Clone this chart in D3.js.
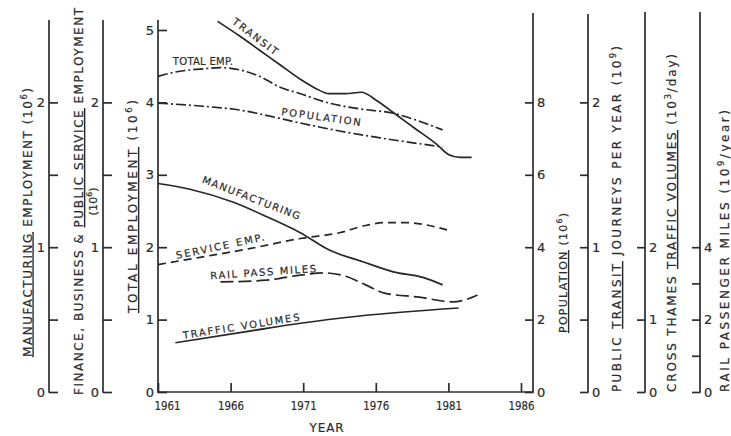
<!DOCTYPE html>
<html>
<head>
<meta charset="utf-8">
<script src="https://cdn.jsdelivr.net/npm/d3@7"></script>
<style>
body { margin: 0; background: #fff; }
text { font-family: "DejaVu Sans", sans-serif; fill: #2c2c2c; stroke: #2c2c2c; stroke-width: 0.2px; }
</style>
</head>
<body>
<svg id="chart" width="731" height="436"></svg>
<script>
// values, each series in its own axis units
var yearTicks = [1961, 1966, 1971, 1976, 1981, 1986];

var transitYears = [1965.1, 1966.6, 1968.0, 1969.4, 1970.8, 1971.8, 1972.8, 1973.9, 1975.0, 1976.1, 1977.2, 1978.7, 1980.2, 1981.0, 1981.8, 1982.6];
var transitValues = [2.56, 2.46, 2.36, 2.26, 2.16, 2.10, 2.06, 2.06, 2.07, 2.01, 1.93, 1.82, 1.71, 1.64, 1.62, 1.62];

var totalYears = [1961.0, 1962.2, 1963.9, 1965.3, 1966.6, 1968.0, 1969.4, 1970.8, 1972.8, 1974.9, 1977.2, 1979.0, 1980.6];
var totalValues = [4.36, 4.42, 4.46, 4.48, 4.45, 4.36, 4.21, 4.12, 3.99, 3.91, 3.85, 3.74, 3.62];

var popYears = [1961.0, 1963.9, 1966.6, 1968.7, 1970.8, 1973.5, 1976.3, 1980.6];
var popValues = [7.98, 7.90, 7.79, 7.62, 7.43, 7.21, 7.02, 6.77];

var mfgYears = [1961.0, 1963.2, 1966.2, 1968.5, 1970.8, 1972.8, 1975.1, 1977.2, 1979.3, 1980.6];
var mfgValues = [1.44, 1.40, 1.31, 1.21, 1.10, 0.98, 0.90, 0.83, 0.79, 0.74];

var servYears = [1961.0, 1963.9, 1967.3, 1970.8, 1973.5, 1975.3, 1976.6, 1978.0, 1980.9];
var servValues = [0.88, 0.93, 0.99, 1.06, 1.10, 1.15, 1.17, 1.17, 1.12];

var railYears = [1965.3, 1968.5, 1970.8, 1972.5, 1973.9, 1975.3, 1976.6, 1979.0, 1981.3, 1982.1, 1983.0];
var railValues = [3.04, 3.09, 3.23, 3.29, 3.20, 2.96, 2.73, 2.62, 2.49, 2.54, 2.68];

var trafficYears = [1962.2, 1967.3, 1970.8, 1974.9, 1981.7];
var trafficValues = [0.68, 0.84, 0.95, 1.05, 1.16];

var ink = "#2c2c2c";
var svg = d3.select("#chart");

var x = d3.scaleLinear().domain([1961, 1986]).range([158, 521]);
var yTotal = d3.scaleLinear().domain([0, 5]).range([392, 30]);
var yMfg = d3.scaleLinear().domain([0, 2.5]).range([392, 30]);
var yServ = d3.scaleLinear().domain([0, 2.5]).range([392, 30]);
var yPop = d3.scaleLinear().domain([0, 10]).range([392, 30]);
var yTransit = d3.scaleLinear().domain([0, 2.5]).range([392, 30]);
var yTraffic = d3.scaleLinear().domain([0, 5]).range([392, 30]);
var yRail = d3.scaleLinear().domain([0, 10]).range([392, 30]);

// stretch letter spacing so a text runs the same length as in the scan
function fit(t, target) {
  var n = t.text().length;
  var w = t.node().getComputedTextLength();
  t.attr("letter-spacing", (target - w) / Math.max(n - 1, 1));
}

function yAxis(xpos, scale, top, ticks, fmt, side) {
  var axis = side === "L" ? d3.axisLeft(scale).tickSize(-9) : d3.axisRight(scale).tickSize(-8);
  axis.tickValues(ticks).tickFormat(fmt).tickPadding(4);
  var g = svg.append("g").attr("transform", `translate(${xpos},0)`).call(axis);
  g.attr("font-family", null).attr("font-size", null);
  g.select(".domain").remove();
  g.selectAll(".tick line").attr("stroke", ink).attr("stroke-width", 1.7);
  g.selectAll(".tick text").attr("font-size", 13);
  g.append("line")
    .attr("y1", top).attr("y2", 392.7)
    .attr("stroke", ink).attr("stroke-width", 1.7);
  return g;
}

var half = d => (d % 1 === 0 ? d : "");
yAxis(49, yMfg, 20, [0, 0.5, 1, 1.5, 2], half, "L");
yAxis(103, yServ, 20, [0, 0.5, 1, 1.5, 2], half, "L");
yAxis(158, yTotal, 20, [0, 1, 2, 3, 4, 5], d => d, "L");
yAxis(533, yPop, 13, [0, 2, 4, 6, 8], d => d, "R");
yAxis(588, yTransit, 14, [0, 0.5, 1, 1.5, 2], half, "R");
yAxis(645, yTraffic, 12, [0, 1, 2], d => d, "R");
yAxis(700, yRail, 12, [0, 1, 2, 3, 4], d => (d % 2 === 0 ? d : ""), "R");

// year axis
var xg = svg.append("g").attr("transform", "translate(0,392)")
  .call(d3.axisBottom(x).tickValues(yearTicks).tickSize(-9).tickPadding(9).tickFormat(d3.format("d")));
xg.attr("font-family", null).attr("font-size", null);
xg.select(".domain").remove();
xg.selectAll(".tick line").attr("stroke", ink).attr("stroke-width", 1.7);
xg.selectAll(".tick text").attr("font-size", 13)
  .attr("textLength", 26).attr("lengthAdjust", "spacingAndGlyphs")
  .attr("dx", d => (d === 1961 ? 9 : 0));
xg.append("line").attr("x1", 157.2).attr("x2", 533.8)
  .attr("stroke", ink).attr("stroke-width", 1.7);

var yearLabel = svg.append("text").attr("x", 327).attr("y", 432)
  .attr("text-anchor", "middle").attr("font-size", 12).text("YEAR");
fit(yearLabel, 34);

// series
function series(years, values, scale, dash) {
  var line = d3.line()
    .x(d => x(d[0]))
    .y(d => scale(d[1]))
    .curve(d3.curveMonotoneX);
  svg.append("path")
    .datum(d3.zip(years, values))
    .attr("d", line)
    .attr("fill", "none")
    .attr("stroke", "#262626")
    .attr("stroke-width", 1.7)
    .attr("stroke-dasharray", dash);
}

series(transitYears, transitValues, yTransit, null);
series(totalYears, totalValues, yTotal, "10,3,2,3");
series(popYears, popValues, yPop, "10,3,2,3");
series(mfgYears, mfgValues, yMfg, null);
series(servYears, servValues, yServ, "8,5");
series(railYears, railValues, yRail, "13,5");
series(trafficYears, trafficValues, yTraffic, null);

// labels written along the curves
function curveLabel(txt, cx, cy, angle, len) {
  var t = svg.append("text")
    .attr("transform", `translate(${cx},${cy}) rotate(${angle})`)
    .attr("text-anchor", "middle")
    .attr("dy", "0.36em")
    .attr("font-size", 10)
    .text(txt);
  fit(t, len);
}
curveLabel("TRANSIT", 256, 37, 37, 54);
curveLabel("TOTAL EMP.", 203, 61, 0, 60);
curveLabel("POPULATION", 322, 117, 8, 80);
curveLabel("MANUFACTURING", 252, 198, 21, 104);
curveLabel("SERVICE EMP.", 221, 246, -12, 90);
curveLabel("RAIL PASS MILES", 264, 272, -4, 106);
curveLabel("TRAFFIC VOLUMES", 242, 326, -9, 118);

// rotated axis titles; parts: [text, "u" underline | "s" superscript]
function vTitle(xb, yStart, parts, size, len) {
  var t = svg.append("text")
    .attr("transform", `translate(${xb},${yStart}) rotate(-90)`)
    .attr("font-size", size);
  var up = false;
  parts.forEach(function(p) {
    var s = t.append("tspan").text(p[0]);
    if (p[1] === "u") s.attr("text-decoration", "underline");
    if (p[1] === "s") { s.attr("font-size", size * 0.7).attr("dy", -5); up = true; }
    else if (up) { s.attr("dy", 5); up = false; }
  });
  fit(t, len);
  return t;
}

vTitle(31.5, 357, [["MANUFACTURING", "u"], [" EMPLOYMENT (10", ""], ["6", "s"], [")", ""]], 12, 269);
var fin = vTitle(83, 395, [["FINANCE, BUSINESS & ", ""], ["PUBLIC SERVICE", "u"], [" EMPLOYMENT", ""]], 12, 387);
vTitle(137, 313, [["TOTAL EMPLOYMENT", "u"], [" (10", ""], ["6", "s"], [")", ""]], 12, 213);
vTitle(567, 333, [["POPULATION", "u"], [" (10", ""], ["6", "s"], [")", ""]], 11, 120);
vTitle(621, 392, [["PUBLIC ", ""], ["TRANSIT", "u"], [" JOURNEYS PER YEAR (10", ""], ["9", "s"], [")", ""]], 12, 346);
vTitle(676, 392, [["CROSS THAMES ", ""], ["TRAFFIC VOLUMES", "u"], [" (10", ""], ["3", "s"], ["/day)", ""]], 12, 338);
vTitle(728.5, 392, [["RAIL PASSENGER MILES (10", ""], ["9", "s"], ["/year)", ""]], 12, 282);

// "(10^6)" under the word PUBLIC of the finance title
var full = fin.text();
var i0 = full.indexOf("PUBLIC");
var n = fin.node();
var mid = (n.getStartPositionOfChar(i0).x + n.getEndPositionOfChar(i0 + 5).x) / 2;
vTitle(97, 395 - mid + 14, [["(10", ""], ["6", "s"], [")", ""]], 11, 28);
</script>
</body>
</html>
